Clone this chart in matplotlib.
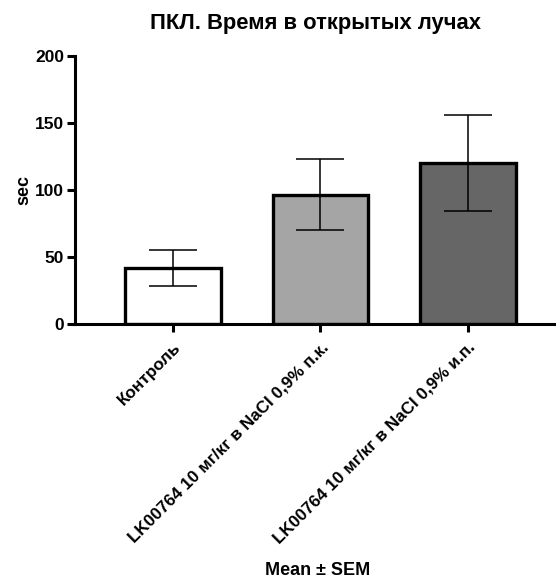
import matplotlib
matplotlib.use('Agg')
import matplotlib.pyplot as plt
import numpy as np

# data
groups = ['Контроль',
          'LK00764 10 мг/кг в NaCl 0,9% п.к.',
          'LK00764 10 мг/кг в NaCl 0,9% и.п.']
means = [41.5, 96.5, 120]
sems = [13.5, 26.5, 35.5]
bar_colors = ['#ffffff', '#a5a5a5', '#666666']

plt.rcParams['font.family'] = ['Liberation Sans', 'DejaVu Sans']
plt.rcParams['font.weight'] = 'bold'

fig = plt.figure(figsize=(5.56, 5.82), dpi=100)
ax = fig.add_axes([0.135, 0.4433, 0.865, 0.461])

x = np.arange(len(groups))
ax.bar(x, means, width=0.65, color=bar_colors, edgecolor='black', linewidth=2.4, zorder=2)
ax.errorbar(x, means, yerr=sems, fmt='none', ecolor='black', elinewidth=1.1,
            capsize=17, capthick=1.1, zorder=3)

ax.set_ylim(0, 200)
ax.set_xlim(-0.667, 2.6)
ax.set_yticks([0, 50, 100, 150, 200])
ax.set_xticks(x)
ax.set_xticklabels(groups, rotation=45, ha='right', rotation_mode='anchor', fontsize=12.3, fontweight='bold')
for lbl in ax.get_yticklabels():
    lbl.set_fontsize(12.5)
    lbl.set_fontweight('bold')

for s in ['top', 'right']:
    ax.spines[s].set_visible(False)
for s in ['left', 'bottom']:
    ax.spines[s].set_linewidth(2.2)
ax.tick_params(axis='both', width=2.2, length=6, pad=2)
ax.tick_params(axis='x', pad=5)

ax.set_ylabel('sec', fontsize=13, fontweight='bold', labelpad=2)
ax.set_title('ПКЛ. Время в открытых лучах', fontsize=15.8, fontweight='bold', pad=19)
fig.text(0.572, 0.006, 'Mean ± SEM', ha='center', va='bottom', fontsize=13, fontweight='bold')

fig.savefig('out.png', dpi=100)
